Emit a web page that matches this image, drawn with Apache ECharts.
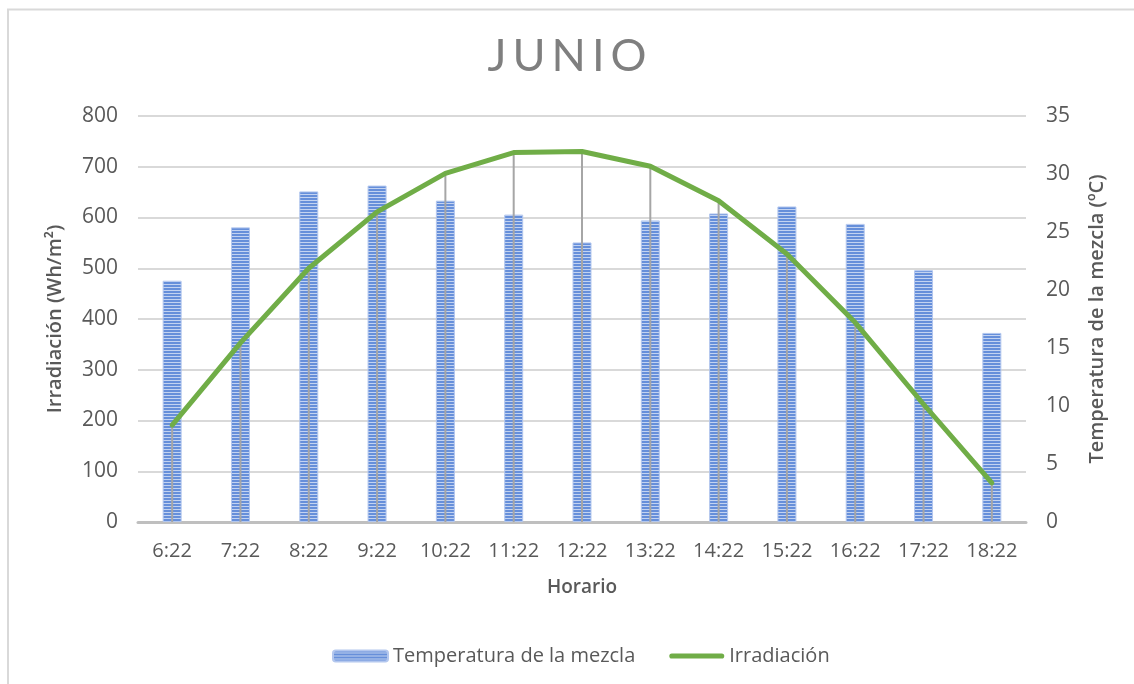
<!DOCTYPE html>
<html>
<head>
<meta charset="utf-8">
<script src="https://cdn.jsdelivr.net/npm/echarts@6/dist/echarts.min.js"></script>
<style>
  html, body { margin: 0; padding: 0; background: #fff; }
  #chart { width: 1134px; height: 684px; }
</style>
</head>
<body>
<div id="chart"></div>
<script>
// Hourly readings for June
const horario = ['6:22', '7:22', '8:22', '9:22', '10:22', '11:22', '12:22', '13:22', '14:22', '15:22', '16:22', '17:22', '18:22'];
// Mixture temperature (ºC), right axis
const temperatura = [20.8, 25.4, 28.5, 29.0, 27.7, 26.5, 24.1, 26.0, 26.6, 27.2, 25.7, 21.7, 16.3];
// Irradiance (Wh/m²), left axis
const irradiacion = [191, 353, 500, 611, 687, 728, 730, 701, 633, 528, 393, 232, 77];

// Horizontal-stripe fill for the temperature columns
function stripePattern() {
  const c = document.createElement('canvas');
  c.width = 4; c.height = 3;
  const ctx = c.getContext('2d');
  ctx.fillStyle = '#668fda';
  ctx.fillRect(0, 0, 4, 2);
  ctx.fillStyle = '#c3d3f1';
  ctx.fillRect(0, 2, 4, 1);
  return c;
}
const stripes = { image: stripePattern(), repeat: 'repeat' };

const txt = '#595959';
const fontFam = '"Open Sans", Lato, sans-serif';
const titleText = 'JUNIO';

const chart = echarts.init(document.getElementById('chart'), null, { renderer: 'canvas' });

chart.setOption({
  backgroundColor: '#ffffff',
  animation: false,
  graphic: [{
    type: 'polyline',
    shape: { points: [[8, 700], [8, 9.5], [1140, 9.5]] },
    style: { stroke: '#d9d9d9', lineWidth: 2, fill: null },
    silent: true
  }],
  title: {
    // spaced capitals
    text: titleText.split('').map(ch => '{l|' + ch + '}').join(''),
    left: 'center',
    top: 29,
    textStyle: {
      rich: {
        l: { fontFamily: 'Lato, "Open Sans", sans-serif', fontSize: 45, fontWeight: 'normal', color: '#7f7f7f', padding: [0, 3, 0, 3] }
      }
    }
  },
  legend: {
    data: [
      { name: 'Temperatura de la mezcla' },
      { name: 'Irradiación', icon: 'path://M2.5,0 L51.5,0 A2.5,2.5 0 0 1 51.5,5 L2.5,5 A2.5,2.5 0 0 1 2.5,0 Z' }
    ],
    left: 327,
    top: 641,
    itemWidth: 55,
    itemHeight: 11,
    itemGap: 34,
    textStyle: { fontFamily: fontFam, fontSize: 20, color: txt }
  },
  grid: { left: 138, right: 108, top: 116, bottom: 162 },
  xAxis: {
    type: 'category',
    data: horario,
    name: 'Horario',
    nameLocation: 'middle',
    nameGap: 56,
    nameTextStyle: { fontFamily: fontFam, fontSize: 19, fontWeight: 600, color: txt },
    axisLine: { lineStyle: { color: '#bfbfbf', width: 3 } },
    axisTick: { show: false },
    axisLabel: { interval: 0, fontFamily: fontFam, fontSize: 20, color: txt, margin: 19 }
  },
  yAxis: [{
    type: 'value',
    min: 0, max: 800, interval: 100,
    name: 'Irradiación (Wh/m²)',
    nameLocation: 'middle',
    nameGap: 73,
    nameTextStyle: { fontFamily: fontFam, fontSize: 20, fontWeight: 600, color: txt },
    axisLine: { show: false },
    axisTick: { show: false },
    axisLabel: { fontFamily: fontFam, fontSize: 21, color: txt, margin: 20 },
    splitLine: { lineStyle: { color: '#d9d9d9', width: 2 } }
  }, {
    type: 'value',
    min: 0, max: 35, interval: 5,
    name: 'Temperatura de la mezcla (ºC)',
    nameLocation: 'middle',
    nameGap: 61,
    nameRotate: 90,
    nameTextStyle: { fontFamily: fontFam, fontSize: 20, fontWeight: 600, color: txt },
    axisLine: { show: false },
    axisTick: { show: false },
    axisLabel: { fontFamily: fontFam, fontSize: 21, color: txt, margin: 20 },
    splitLine: { show: false }
  }],
  series: [{
    name: 'Temperatura de la mezcla',
    type: 'bar',
    yAxisIndex: 1,
    data: temperatura,
    barWidth: 19,
    z: 2,
    itemStyle: { color: stripes, borderColor: '#b3c7ee', borderWidth: 1 }
  }, {
    // Drop lines from each irradiance point down to the category axis
    name: 'drop',
    type: 'custom',
    yAxisIndex: 0,
    z: 3,
    silent: true,
    data: irradiacion.map((v, i) => [i, v]),
    renderItem: function (params, api) {
      const top = api.coord([api.value(0), api.value(1)]);
      const bottom = api.coord([api.value(0), 0]);
      return {
        type: 'line',
        shape: { x1: top[0], y1: top[1], x2: bottom[0], y2: bottom[1] },
        style: { stroke: '#a6a6a6', lineWidth: 2 }
      };
    }
  }, {
    name: 'Irradiación',
    type: 'line',
    yAxisIndex: 0,
    data: irradiacion,
    symbol: 'none',
    z: 4,
    lineStyle: { color: '#70ad47', width: 5, cap: 'round', join: 'round' },
    itemStyle: { color: '#70ad47' }
  }]
});
</script>
</body>
</html>
